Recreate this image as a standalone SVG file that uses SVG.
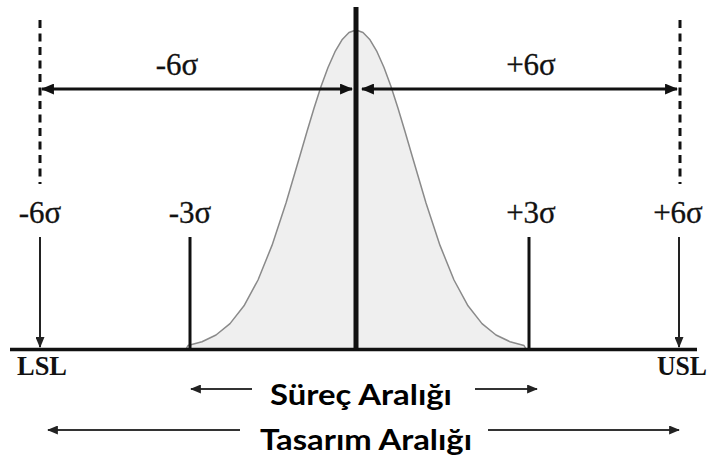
<svg xmlns="http://www.w3.org/2000/svg" width="709" height="462" viewBox="0 0 709 462">
<defs>
<style>
.sig{font-family:"Liberation Serif","Times New Roman",serif;font-size:31px;fill:#111;text-anchor:middle;stroke:#111;stroke-width:0.3}
.lim{font-family:"Liberation Serif","Times New Roman",serif;font-size:27px;font-weight:bold;fill:#111}
.rng{font-family:Lato,"Open Sans",sans-serif;font-size:28px;font-weight:bold;fill:#000}
.dash{stroke:#111;stroke-width:3;stroke-dasharray:8 5.5;fill:none}
.thick{stroke:#111;stroke-width:3;fill:none}
.thin{stroke:#222;stroke-width:2;fill:none}
.gray{stroke:#333;stroke-width:2;fill:none}
</style>
<marker id="ah" viewBox="0 0 12 10" refX="11" refY="5" markerWidth="13" markerHeight="11" markerUnits="userSpaceOnUse" orient="auto-start-reverse">
<path d="M0,0 L12,5 L0,10 Z" fill="#111"/>
</marker>
<marker id="ahs" viewBox="0 0 12 10" refX="11" refY="5" markerWidth="11" markerHeight="9" markerUnits="userSpaceOnUse" orient="auto-start-reverse">
<path d="M0,0 L12,5 L0,10 Z" fill="#222"/>
</marker>
</defs>
<rect width="709" height="462" fill="#fff"/>
<g id="curve">
<path d="M186,349 L188,345.5 L202,341.7 L216,335 L230,323.6 L244,305.8 L258,280 L272,245.4 L286,203 L300,155.5 L307,131.5 L314,108.2 L321,86.6 L328,67.5 L335,51.7 L342,39.8 L349,32.5 L356,30 L363,32.5 L370,39.8 L377,51.7 L384,67.5 L391,86.6 L398,108.2 L405,131.5 L412,155.5 L426,203 L440,245.4 L454,280 L468,305.8 L482,323.6 L496,335 L510,341.7 L524,345.5 L526,349 Z" fill="#efefef" stroke="#8a8a8a" stroke-width="1.5" stroke-linejoin="round"/>
</g>
<g id="axis">
<line x1="10" y1="349.5" x2="697" y2="349.5" stroke="#111" stroke-width="3.5"/>
<line x1="356" y1="7" x2="356" y2="351" stroke="#111" stroke-width="5"/>
</g>
<g id="limits">
<line class="dash" x1="40" y1="20" x2="40" y2="184"/>
<line class="dash" x1="680" y1="20" x2="680" y2="184"/>
<line class="thick" x1="190" y1="237" x2="190" y2="349"/>
<line class="thick" x1="529" y1="237" x2="529" y2="349"/>
</g>
<g id="connectors">
<line class="thick" x1="42" y1="89" x2="352" y2="89" marker-start="url(#ah)" marker-end="url(#ah)"/>
<line class="thick" x1="362" y1="89" x2="677" y2="89" marker-start="url(#ah)" marker-end="url(#ah)"/>
<line class="thin" x1="40" y1="237" x2="40" y2="347" marker-end="url(#ahs)"/>
<line class="thin" x1="679" y1="237" x2="679" y2="347" marker-end="url(#ahs)"/>
<line class="gray" x1="191" y1="389" x2="252" y2="389" marker-start="url(#ahs)"/>
<line class="gray" x1="475" y1="389" x2="537" y2="389" marker-end="url(#ahs)"/>
<line class="gray" x1="48" y1="430" x2="240" y2="430" marker-start="url(#ahs)"/>
<line class="gray" x1="488" y1="430" x2="679" y2="430" marker-end="url(#ahs)"/>
</g>
<g id="labels">
<text class="sig" x="177" y="75">-6σ</text>
<text class="sig" x="531" y="75">+6σ</text>
<text class="sig" x="40" y="223">-6σ</text>
<text class="sig" x="190" y="223">-3σ</text>
<text class="sig" x="531" y="223">+3σ</text>
<text class="sig" x="678" y="223">+6σ</text>
<text class="lim" x="17" y="375" textLength="50" lengthAdjust="spacingAndGlyphs">LSL</text>
<text class="lim" x="657" y="375" textLength="50" lengthAdjust="spacingAndGlyphs">USL</text>
<text class="rng" x="270" y="405" textLength="182" lengthAdjust="spacingAndGlyphs">Süreç Aralığı</text>
<text class="rng" x="260" y="450" textLength="212" lengthAdjust="spacingAndGlyphs">Tasarım Aralığı</text>
</g>
</svg>
